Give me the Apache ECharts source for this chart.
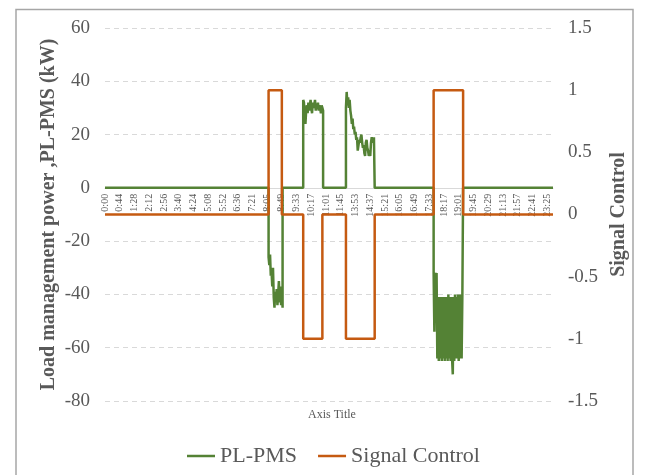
<!DOCTYPE html>
<html>
<head>
<meta charset="utf-8">
<script src="https://cdn.jsdelivr.net/npm/echarts@6/dist/echarts.min.js"></script>
<style>
  html, body { margin: 0; padding: 0; background: #ffffff; }
  #chart { width: 647px; height: 475px; }
</style>
</head>
<body>
<div id="chart"></div>
<script>
// Time-of-day tick labels, one every 20 samples along the category axis
const timeLabels = [
  '0:00', '0:44', '1:28', '2:12', '2:56', '3:40', '4:24', '5:08', '5:52', '6:36',
  '7:21', '8:05', '8:49', '9:33', '10:17', '11:01', '11:45', '13:53', '14:37', '15:21',
  '16:05', '16:49', '17:33', '18:17', '19:01', '19:45', '20:29', '21:13', '21:57', '22:41',
  '23:25'
];
const samplesPerLabel = 20;
const sampleCount = 609;

// PL-PMS load management power (kW) as [sample index, kW]
const plPms = [
  [0, 0], [222, 0],
  [222, -26], [223, -29], [224, -25], [225, -33], [226, -31], [227, -37], [228, -30],
  [229, -41], [230, -45], [231, -39], [232, -42], [233, -38], [234, -44], [235, -40],
  [236, -35], [237, -43], [238, -37], [239, -44], [240, -38], [241, -45],
  [241, 0], [269, 0],
  [269, 33], [270, 32], [271, 27], [272, 24], [273, 29], [274, 31], [275, 28], [276, 32],
  [277, 29], [278, 31], [279, 33], [280, 30], [281, 28], [282, 32], [283, 30], [284, 31],
  [285, 33], [286, 29], [287, 31], [288, 30], [289, 32], [290, 29], [291, 31], [292, 30],
  [293, 28], [294, 31], [295, 30], [296, 29],
  [296, 0], [327, 0],
  [327, 30], [328, 36], [329, 31], [330, 34], [331, 30], [332, 33], [333, 29], [334, 27],
  [335, 24], [336, 26], [337, 22], [338, 23], [339, 20], [340, 21], [341, 18], [342, 19],
  [343, 14], [344, 16], [345, 18], [346, 17], [347, 19], [348, 20], [349, 17], [350, 15],
  [351, 16], [352, 13], [353, 12], [354, 17], [355, 18], [356, 15], [357, 14], [358, 12],
  [359, 13], [360, 12], [361, 17], [362, 19], [363, 18], [364, 17], [365, 19], [366, 19],
  [366, 0], [446, 0],
  [446, -32], [447, -54], [448, -32], [449, -33], [450, -32],
  [451, -64], [452, -41], [453, -65], [454, -41], [455, -64], [456, -41], [457, -65],
  [458, -41], [459, -64], [460, -41], [461, -65], [462, -41], [463, -64], [464, -41],
  [465, -65], [466, -40], [467, -64], [468, -41], [469, -65], [470, -41], [471, -64],
  [472, -70], [473, -41], [474, -65], [475, -40], [476, -64], [477, -41], [478, -64],
  [479, -40], [480, -65], [481, -40], [482, -64], [483, -40], [484, -64], [485, -40],
  [486, -40], [486, 0], [608, 0]
];

// Signal Control level changes as [sample index, level], held until the next change
const signalControl = [
  [0, 0], [222, 1], [240, 0], [269, -1], [295, 0], [327, -1], [366, 0],
  [446, 1], [486, 0], [608, 0]
];

const categories = [];
for (let i = 0; i < sampleCount; i++) {
  categories.push(i % samplesPerLabel === 0 ? timeLabels[i / samplesPerLabel] : '');
}

const serif = '"Liberation Serif", "Times New Roman", serif';
const textGray = '#595959';

// Plot box and primary axis range; the category axis sits on the kW zero line
const plotTop = 28, plotBottom = 401;
const kwMin = -80, kwMax = 60;
const zeroOffset = (plotBottom - plotTop) * (0 - kwMin) / (kwMax - kwMin);

const chart = echarts.init(document.getElementById('chart'), null, { renderer: 'canvas' });
chart.setOption({
  backgroundColor: '#ffffff',
  animation: false,
  graphic: [{
    type: 'rect',
    shape: { x: 16, y: 9.5, width: 617, height: 480 },
    style: { fill: 'none', stroke: '#a6a6a6', lineWidth: 1.5 },
    silent: true
  }],
  title: {
    text: 'Axis Title',
    left: 303,
    top: 404,
    textStyle: { fontFamily: serif, fontSize: 12, fontWeight: 'normal', color: textGray }
  },
  legend: {
    left: 182,
    top: 440,
    icon: 'rect',
    itemWidth: 28,
    itemHeight: 2.5,
    itemGap: 21,
    textStyle: { fontFamily: serif, fontSize: 22, color: textGray },
    data: ['PL-PMS', 'Signal Control']
  },
  grid: { left: 105, right: 94, top: plotTop, bottom: 475 - plotBottom, containLabel: false },
  xAxis: {
    type: 'category',
    data: categories,
    boundaryGap: false,
    offset: -zeroOffset,
    axisLine: { onZero: false, lineStyle: { color: '#d9d9d9', width: 1 } },
    axisTick: { show: false },
    axisLabel: {
      interval: samplesPerLabel - 1,
      rotate: 90,
      margin: 6,
      fontFamily: serif,
      fontSize: 10,
      color: textGray
    },
    splitLine: { show: false }
  },
  yAxis: [{
    type: 'value',
    min: kwMin,
    max: kwMax,
    interval: 20,
    name: 'Load management power ,PL-PMS (kW)',
    nameLocation: 'middle',
    nameRotate: 90,
    nameGap: 46,
    nameMoveOverlap: false,
    nameTextStyle: { fontFamily: serif, fontSize: 20, fontWeight: 'bold', color: textGray },
    axisLine: { show: false },
    axisTick: { show: false },
    axisLabel: { margin: 15, fontFamily: serif, fontSize: 19, color: textGray },
    splitLine: { show: true, lineStyle: { color: '#d9d9d9', type: [5, 4], width: 1 } }
  }, {
    type: 'value',
    position: 'right',
    min: -1.5,
    max: 1.5,
    interval: 0.5,
    name: 'Signal Control',
    nameLocation: 'middle',
    nameRotate: 90,
    nameGap: 53,
    nameTextStyle: { fontFamily: serif, fontSize: 20, fontWeight: 'bold', color: textGray },
    axisLine: { show: false },
    axisTick: { show: false },
    axisLabel: { margin: 15, fontFamily: serif, fontSize: 19, color: textGray },
    splitLine: { show: false }
  }],
  series: [{
    name: 'PL-PMS',
    type: 'line',
    yAxisIndex: 0,
    data: plPms,
    symbol: 'none',
    color: '#548235',
    lineStyle: { color: '#548235', width: 2.5 },
    z: 3
  }, {
    name: 'Signal Control',
    type: 'line',
    yAxisIndex: 1,
    data: signalControl,
    step: 'end',
    symbol: 'none',
    color: '#c55a11',
    lineStyle: { color: '#c55a11', width: 2.5 },
    z: 4
  }]
});
</script>
</body>
</html>
